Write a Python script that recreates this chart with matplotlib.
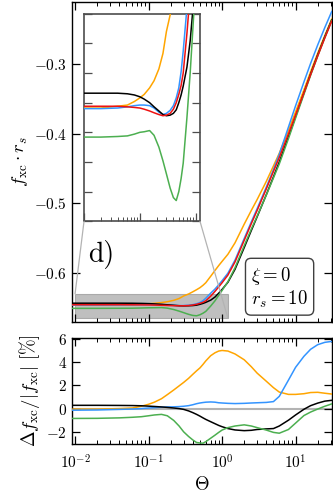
import matplotlib
matplotlib.use("Agg")
import matplotlib.pyplot as plt
from matplotlib.patches import Rectangle, ConnectionPatch
from matplotlib.ticker import LogLocator, NullFormatter, MultipleLocator

plt.rcParams['font.family'] = 'serif'
plt.rcParams['font.serif'] = ['cmr10', 'DejaVu Serif']
plt.rcParams['mathtext.fontset'] = 'cm'
plt.rcParams['axes.formatter.use_mathtext'] = True

# ---------------- data ----------------
theta = [0.009, 0.02, 0.04, 0.06, 0.08, 0.1, 0.12, 0.15, 0.18, 0.22,
         0.26, 0.3, 0.35, 0.4, 0.45, 0.5, 0.55, 0.6, 0.7, 0.8,
         0.9, 1.0, 1.2, 1.5, 2.0, 2.5, 3.0, 4.0, 5.0, 6.0,
         8.0, 10.0, 13.0, 16.0, 20.0, 25.0, 31.0]

fxc_red = [-0.6456, -0.6456, -0.6456, -0.6457, -0.6458, -0.6459, -0.6461, -0.6464, -0.6467, -0.6470,
           -0.6472, -0.6471, -0.6468, -0.6461, -0.6450, -0.6436, -0.6421, -0.6400, -0.6333, -0.6265,
           -0.6200, -0.6140, -0.6030, -0.5840, -0.5530, -0.5290, -0.5100, -0.4790, -0.4540, -0.4340,
           -0.4000, -0.3730, -0.3410, -0.3150, -0.2880, -0.2620, -0.2380]
fxc_blue = [-0.6460, -0.6460, -0.6459, -0.6457, -0.6455, -0.6454, -0.6454, -0.6455, -0.6459, -0.6466,
            -0.6470, -0.6468, -0.6463, -0.6455, -0.6442, -0.6425, -0.6398, -0.6363, -0.6290, -0.6231,
            -0.6169, -0.6111, -0.6003, -0.5815, -0.5505, -0.5265, -0.5075, -0.4765, -0.4513, -0.4294,
            -0.3902, -0.3596, -0.3253, -0.2988, -0.2722, -0.2471, -0.2242]
fxc_black = [-0.6434, -0.6434, -0.6434, -0.6435, -0.6437, -0.6440, -0.6444, -0.6450, -0.6457, -0.6464,
             -0.6470, -0.6472, -0.6471, -0.6468, -0.6462, -0.6450, -0.6437, -0.6422, -0.6390, -0.6346,
             -0.6290, -0.6236, -0.6134, -0.5947, -0.5635, -0.5389, -0.5192, -0.4874, -0.4618, -0.4405,
             -0.4040, -0.3752, -0.3412, -0.3141, -0.2865, -0.2603, -0.2363]
fxc_orange = [-0.6459, -0.6459, -0.6456, -0.6454, -0.6448, -0.6442, -0.6436, -0.6425, -0.6413, -0.6393,
              -0.6367, -0.6330, -0.6302, -0.6270, -0.6240, -0.6211, -0.6177, -0.6140, -0.6047, -0.5964,
              -0.5893, -0.5833, -0.5731, -0.5566, -0.5298, -0.5100, -0.4944, -0.4682, -0.4461, -0.4279,
              -0.3951, -0.3684, -0.3366, -0.3107, -0.2840, -0.2585, -0.2350]
fxc_green = [-0.6508, -0.6508, -0.6507, -0.6506, -0.6503, -0.6500, -0.6499, -0.6497, -0.6505, -0.6525,
             -0.6548, -0.6570, -0.6594, -0.6610, -0.6615, -0.6600, -0.6578, -0.6552, -0.6475, -0.6400,
             -0.6321, -0.6251, -0.6125, -0.5924, -0.5607, -0.5369, -0.5183, -0.4879, -0.4633, -0.4432,
             -0.4068, -0.3773, -0.3430, -0.3159, -0.2881, -0.2615, -0.2370]

dev_orange = [-0.05, -0.05, 0.0, 0.05, 0.2, 0.37, 0.55, 0.85, 1.2, 1.6,
              1.95, 2.25, 2.6, 2.95, 3.25, 3.5, 3.8, 4.1, 4.55, 4.8,
              4.95, 5.0, 4.95, 4.7, 4.2, 3.6, 3.05, 2.35, 1.8, 1.42,
              1.22, 1.22, 1.28, 1.38, 1.4, 1.32, 1.25]
dev_blue = [-0.14, -0.12, -0.07, -0.04, 0.0, 0.05, 0.08, 0.12, 0.14, 0.15,
            0.17, 0.2, 0.25, 0.33, 0.42, 0.48, 0.52, 0.55, 0.57, 0.55,
            0.5, 0.48, 0.45, 0.43, 0.45, 0.48, 0.5, 0.53, 0.6, 1.05,
            2.45, 3.55, 4.5, 5.1, 5.5, 5.7, 5.78]
dev_black = [0.28, 0.28, 0.27, 0.26, 0.24, 0.21, 0.18, 0.14, 0.1, 0.05,
             0.0, -0.07, -0.2, -0.35, -0.5, -0.65, -0.8, -0.93, -1.13, -1.3,
             -1.45, -1.56, -1.72, -1.84, -1.9, -1.87, -1.8, -1.75, -1.72, -1.5,
             -1.0, -0.55, -0.06, 0.25, 0.47, 0.64, 0.71]
dev_green = [-0.85, -0.84, -0.8, -0.75, -0.7, -0.62, -0.55, -0.5, -0.62, -1.02,
             -1.5, -2.0, -2.4, -2.7, -2.92, -2.96, -2.98, -2.85, -2.55, -2.29,
             -2.05, -1.85, -1.64, -1.5, -1.4, -1.5, -1.64, -1.85, -2.05, -2.12,
             -1.8, -1.25, -0.6, -0.3, -0.04, 0.2, 0.4]

main_yticks = [-0.6, -0.5, -0.4, -0.3]
dev_yticks = [-2, 0, 2, 4, 6]
panel_label = 'd)'
info_text = '$\\xi = 0$\n$r_s = 10$'

C_ORANGE = '#ffa500'
C_BLUE = '#3394ff'
C_RED = '#ee1111'
C_BLACK = 'black'
C_GREEN = '#4caf50'
LW = 1.1

XLIM = (0.009, 31)
INSET_XLIM = (0.01, 1.2)
INSET_YLIM = (-0.665, -0.630)

fig = plt.figure(figsize=(3.33, 4.95), dpi=100)
ax = fig.add_axes([0.2153, 0.3501, 0.7808, 0.6465])
axb = fig.add_axes([0.2153, 0.1030, 0.7808, 0.2148])
axi = fig.add_axes([0.2523, 0.5529, 0.3483, 0.4194])


def style(a, top=True, right=True):
    a.tick_params(which='both', direction='in', top=top, right=right, labelsize=11)
    a.tick_params(which='major', length=5.5, width=0.9)
    a.tick_params(which='minor', length=3, width=0.7)
    for s in a.spines.values():
        s.set_linewidth(1.0)


series = [(fxc_orange, C_ORANGE), (fxc_blue, C_BLUE), (fxc_black, C_BLACK),
          (fxc_green, C_GREEN), (fxc_red, C_RED)]

for a in (ax, axi):
    for y, c in series:
        a.plot(theta, y, color=c, lw=LW, zorder=3)

# main axes
ax.set_xscale('log')
ax.set_xlim(*XLIM)
ax.set_ylim(-0.67, -0.21)
ax.set_yticks(main_yticks)
ax.xaxis.set_major_locator(LogLocator(base=10, numticks=10))
ax.xaxis.set_minor_locator(LogLocator(base=10, subs=range(2, 10), numticks=20))
ax.set_xticklabels([])
ax.xaxis.set_minor_formatter(NullFormatter())
style(ax)
ax.set_ylabel('$f_\\mathrm{xc}\\cdot r_s$', fontsize=13.5, labelpad=3)

rect = Rectangle((INSET_XLIM[0], INSET_YLIM[0]), INSET_XLIM[1] - INSET_XLIM[0],
                 INSET_YLIM[1] - INSET_YLIM[0], facecolor='0.55', alpha=0.55,
                 edgecolor='0.5', lw=0.8, zorder=1)
ax.add_patch(rect)

ax.text(0.062, 0.188, panel_label, transform=ax.transAxes, fontsize=20,
        va='baseline', ha='left')
ax.text(0.69, 0.108, info_text, transform=ax.transAxes, fontsize=13.5,
        va='center', ha='left', multialignment='left', linespacing=1.1,
        bbox=dict(boxstyle='round,pad=0.3', facecolor='white', edgecolor='0.25', lw=1.0))

# inset
axi.set_xscale('log')
axi.set_xlim(*INSET_XLIM)
axi.set_ylim(*INSET_YLIM)
axi.yaxis.set_major_locator(MultipleLocator(0.005))
axi.xaxis.set_major_locator(LogLocator(base=10, numticks=10))
axi.xaxis.set_minor_locator(LogLocator(base=10, subs=range(2, 10), numticks=20))
axi.tick_params(which='both', direction='in', top=False, right=True,
                labelbottom=False, labelleft=False, colors='0.3')
axi.tick_params(which='major', length=5.5, width=0.9)
axi.tick_params(which='minor', length=3, width=0.7)
for s in axi.spines.values():
    s.set_linewidth(1.2)
    s.set_edgecolor('0.3')

for xyA, xyB in [((0, 0), (INSET_XLIM[0], INSET_YLIM[1])),
                 ((1, 0), (INSET_XLIM[1], INSET_YLIM[0]))]:
    cp = ConnectionPatch(xyA=xyA, coordsA=axi.transAxes, xyB=xyB, coordsB=ax.transData,
                         color='0.7', lw=0.9, zorder=2)
    fig.add_artist(cp)

# deviation panel
axb.axhline(0, color='0.7', lw=1.5, zorder=1)
for y, c in [(dev_orange, C_ORANGE), (dev_blue, C_BLUE), (dev_black, C_BLACK),
             (dev_green, C_GREEN)]:
    axb.plot(theta, y, color=c, lw=LW, zorder=3)
axb.set_xscale('log')
axb.set_xlim(*XLIM)
axb.set_ylim(-3.05, 6.1)
axb.set_yticks(dev_yticks)
axb.xaxis.set_major_locator(LogLocator(base=10, numticks=10))
axb.xaxis.set_minor_locator(LogLocator(base=10, subs=range(2, 10), numticks=20))
axb.xaxis.set_minor_formatter(NullFormatter())
style(axb)
axb.tick_params(axis='x', pad=7)
axb.set_xlabel('$\\Theta$', fontsize=13.5, labelpad=3)
axb.set_ylabel('$\\Delta f_\\mathrm{xc}/|f_\\mathrm{xc}|\\ [\\%]$', fontsize=13.5, labelpad=3)

fig.savefig('out.png', dpi=100)
